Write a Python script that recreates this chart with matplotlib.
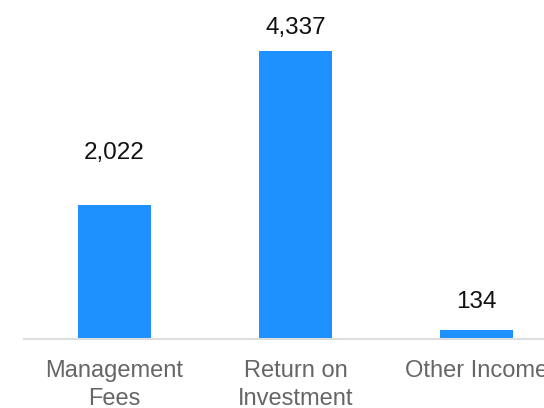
import matplotlib
matplotlib.use("Agg")
import matplotlib.pyplot as plt

categories = ["Management\nFees", "Return on\nInvestment", "Other Income"]
values = [2022, 4337, 134]
value_labels = ["2,022", "4,337", "134"]
label_gaps_px = [46, 17, 22]

plt.rcParams['font.family'] = ['Liberation Sans', 'DejaVu Sans']

fig = plt.figure(figsize=(5.44, 4.08), dpi=100)
ax = fig.add_axes([24/544, 69/408, 543/544, 339/408])
x = list(range(len(categories)))
ax.bar(x, values, width=0.4, color='#1E90FF', zorder=2)
ax.set_xlim(-0.5, 2.5)
ax.set_ylim(0, 5105)

for xi, v, lab, g in zip(x, values, value_labels, label_gaps_px):
    ax.annotate(lab, (xi, v), xytext=(0, g), textcoords='offset pixels',
                ha='center', va='baseline', fontsize=17.5, color='#111111')

ax.set_xticks(x)
ax.set_xticklabels(categories, fontsize=17, color='#666666', linespacing=1.35)
ax.tick_params(axis='x', length=0, pad=15)
ax.set_yticks([])
for s in ['top', 'right', 'left']:
    ax.spines[s].set_visible(False)
ax.spines['bottom'].set_color('#dddddd')
ax.spines['bottom'].set_linewidth(1.5)

fig.savefig('out.png', dpi=100)
